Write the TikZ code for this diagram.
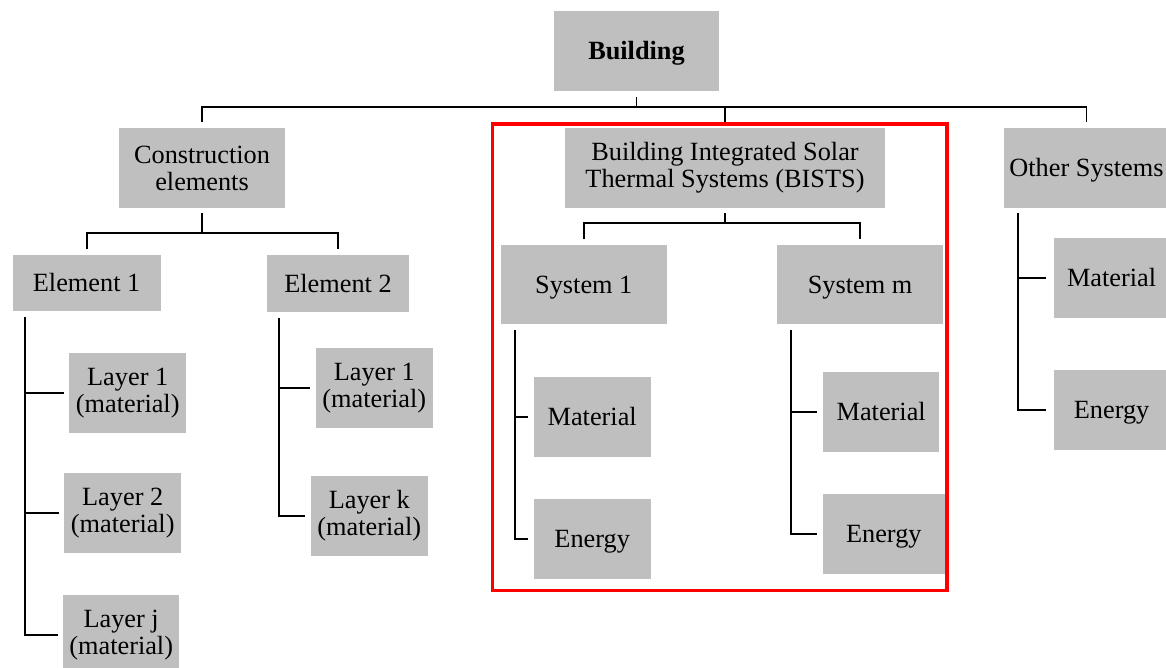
\documentclass[tikz,border=0pt]{standalone}
\usepackage{fontspec}
\setmainfont{Liberation Serif}
\usetikzlibrary{calc}
\definecolor{boxgray}{RGB}{191,191,191}
\definecolor{framered}{RGB}{255,0,0}

\begin{document}
\begin{tikzpicture}[x=1pt,y=-1pt,
  box/.style={fill=boxgray, inner sep=2pt, align=center,
              font=\fontsize{26.3}{27}\selectfont},
  oneline/.style={box, text height=17.4pt, text depth=0pt},
  conn/.style={draw=black, line width=1.9pt}
]
\useasboundingbox (0,0) rectangle (1166,668);
\clip (0,0) rectangle (1166,668);

% ---- top level
\node[oneline, minimum width=165, minimum height=80] (bld) at (636.5,51) {\textbf{Building}};

% ---- second level
\node[box, minimum width=166, minimum height=80] (ce)    at (202,168)    {Construction\\elements};
\node[box, minimum width=320, minimum height=80] (bists) at (725,168)    {Building Integrated Solar\\Thermal Systems (BISTS)};
\node[oneline, minimum width=165, minimum height=80] (oth) at (1086.5,168) {Other Systems};

% ---- third level
\node[oneline, minimum width=148, minimum height=56] (el1)  at (86.6,283)   {Element 1};
\node[oneline, minimum width=142, minimum height=57] (el2)  at (338,283.6)  {Element 2};
\node[oneline, minimum width=166, minimum height=79] (sys1) at (583.8,284.7) {System 1};
\node[oneline, minimum width=166, minimum height=79] (sysm) at (860,284.7)   {System m};
\node[oneline, minimum width=116, minimum height=80] (om)   at (1111.6,278)  {Material};
\node[oneline, minimum width=116, minimum height=80] (oe)   at (1111.6,410)  {Energy};

% ---- leaves
\node[box, minimum width=117, minimum height=80] (l11) at (127.7,392.7) {Layer 1\\(material)};
\node[box, minimum width=117, minimum height=80] (l12) at (122.7,513.3) {Layer 2\\(material)};
\node[box, minimum width=116, minimum height=80] (l1j) at (121.2,635.3) {Layer j\\(material)};
\node[box, minimum width=117, minimum height=80] (l21) at (374.3,387.7) {Layer 1\\(material)};
\node[box, minimum width=117, minimum height=80] (l2k) at (369.3,516)   {Layer k\\(material)};
\node[oneline, minimum width=117, minimum height=80] (s1m) at (592.2,416.8) {Material};
\node[oneline, minimum width=117, minimum height=80] (s1e) at (592.2,538.8) {Energy};
\node[oneline, minimum width=116, minimum height=80] (smm) at (881.2,411.8) {Material};
\node[oneline, minimum width=122, minimum height=80] (sme) at (883.8,533.8) {Energy};

% ---- bus below Building
\coordinate (busTop) at (0,106.7);
\draw[conn] ($(bld.south)+(0,6)$) -- (bld.south |- busTop);
\draw[conn] ($(ce.north)+(0,-6)$) |- (oth.north |- busTop) -- ($(oth.north)+(0,-6)$);
\draw[conn] (bists.north |- busTop) -- ($(bists.north)+(0,-4)$);

% ---- bus below Construction elements
\coordinate (busCE) at (0,233);
\draw[conn] ($(ce.south)+(0,5)$) -- (ce.south |- busCE);
\draw[conn] ($(el1.north)+(0,-6)$) |- (el2.north |- busCE) -- ($(el2.north)+(0,-6)$);

% ---- bus below BISTS
\coordinate (busB) at (0,222.7);
\draw[conn] ($(bists.south)+(0,5)$) -- (bists.south |- busB);
\draw[conn] ($(sys1.north)+(0,-6)$) |- (sysm.north |- busB) -- ($(sysm.north)+(0,-6)$);

% ---- Element 1 trunk
\coordinate (tE1) at ($(el1.south west)+(12.7,6)$);
\draw[conn] (tE1) |- ($(l1j.west)+(-5.5,0)$);
\draw[conn] (tE1 |- l11.west) -- ($(l11.west)+(-5.5,0)$);
\draw[conn] (tE1 |- l12.west) -- ($(l12.west)+(-5.5,0)$);

% ---- Element 2 trunk
\coordinate (tE2) at ($(el2.south west)+(12,6)$);
\draw[conn] (tE2) |- ($(l2k.west)+(-5.7,0)$);
\draw[conn] (tE2 |- l21.west) -- ($(l21.west)+(-5.7,0)$);

% ---- System 1 trunk
\coordinate (tS1) at ($(sys1.south west)+(14.4,6)$);
\draw[conn] (tS1) |- ($(s1e.west)+(-5.8,0)$);
\draw[conn] (tS1 |- s1m.west) -- ($(s1m.west)+(-5.8,0)$);

% ---- System m trunk
\coordinate (tSm) at ($(sysm.south west)+(14.2,6)$);
\draw[conn] (tSm) |- ($(sme.west)+(-5.7,0)$);
\draw[conn] (tSm |- smm.west) -- ($(smm.west)+(-5.7,0)$);

% ---- Other Systems trunk
\coordinate (tO) at ($(oth.south west)+(14,5.3)$);
\draw[conn] (tO) |- ($(oe.west)+(-7,0)$);
\draw[conn] (tO |- om.west) -- ($(om.west)+(-7,0)$);

% ---- frame around the solar thermal branch
\draw[framered, line width=3.5pt] (492.5,124) rectangle (947,590.7);
\end{tikzpicture}
\end{document}
